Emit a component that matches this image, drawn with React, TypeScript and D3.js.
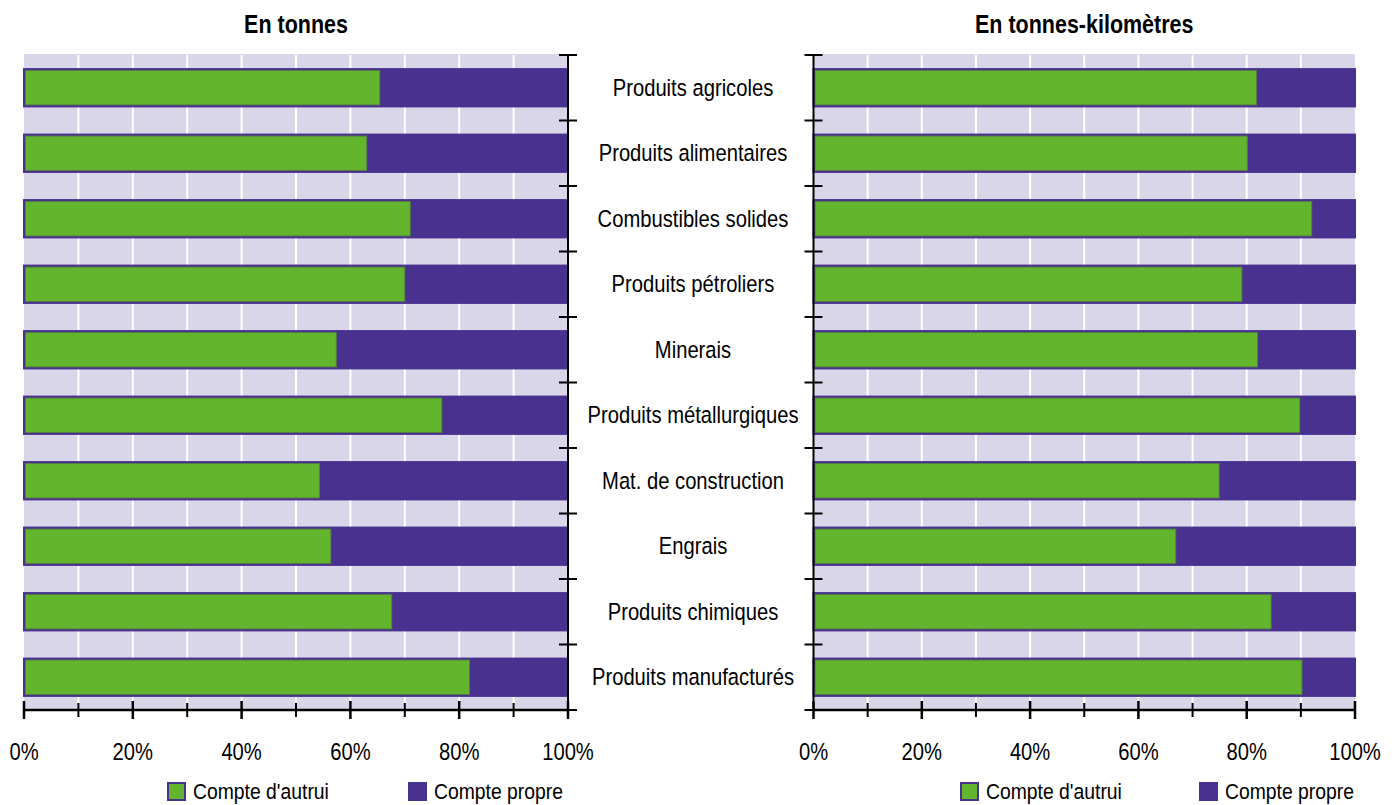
import React from "react";
import * as d3 from "d3";

// Shares of transport on own account vs. for hire, by commodity group
const categories = [
  "Produits agricoles",
  "Produits alimentaires",
  "Combustibles solides",
  "Produits pétroliers",
  "Minerais",
  "Produits métallurgiques",
  "Mat. de construction",
  "Engrais",
  "Produits chimiques",
  "Produits manufacturés",
];

// "Compte d'autrui" share (%), the rest is "Compte propre"
const autruiTonnes = [65.4, 63.0, 71.0, 70.0, 57.4, 76.8, 54.3, 56.4, 67.6, 81.9];
const autruiTkm = [81.8, 80.1, 92.0, 79.1, 82.0, 89.8, 74.9, 66.9, 84.5, 90.2];

const xTicks = [0, 20, 40, 60, 80, 100];
const minorTicks = [10, 30, 50, 70, 90];
const gridValues = [10, 20, 30, 40, 50, 60, 70, 80, 90];
const legendItems = ["Compte d'autrui", "Compte propre"];
const panelTitles = ["En tonnes", "En tonnes-kilomètres"];

const W = 1396;
const H = 805;
const FONT = "'Liberation Sans', Arial, sans-serif";
const NARROW = 0.86; // horizontal squeeze for a condensed look
const GREEN = "#64b52e";
const PURPLE = "#48318f";
const BG = "#d9d6e9";

const TOP = 55;
const BOTTOM = 710;

const y = d3.scaleBand<string>().domain(categories).range([TOP, BOTTOM]).paddingInner(0.43).paddingOuter(0.215);

interface LabelProps {
  x: number;
  y: number;
  size: number;
  anchor?: "start" | "middle" | "end";
  bold?: boolean;
  dy?: string;
  children: React.ReactNode;
}

function Label({ x, y, size, anchor = "start", bold = false, dy, children }: LabelProps) {
  return (
    <text
      transform={`translate(${x},${y}) scale(${NARROW},1)`}
      dy={dy}
      textAnchor={anchor}
      fontFamily={FONT}
      fontWeight={bold ? "bold" : "normal"}
      fontSize={size}
      fill="#000"
    >
      {children}
    </text>
  );
}

interface PanelProps {
  x0: number;
  x1: number;
  values: number[];
  title: string;
  axisSide: "left" | "right";
  legendX: number;
  legendGap: number;
}

function Panel({ x0, x1, values, title, axisSide, legendX, legendGap }: PanelProps) {
  const x = d3.scaleLinear().domain([0, 100]).range([x0, x1]);
  const axisX = axisSide === "right" ? x(100) : x(0);
  const boundaries = d3.range(categories.length + 1).map((i) => TOP + (i * (BOTTOM - TOP)) / categories.length);
  return (
    <g>
      <Label x={(x0 + x1) / 2} y={33} size={25} anchor="middle" bold>
        {title}
      </Label>
      <rect x={x(0)} y={TOP - 1} width={x(100) - x(0)} height={BOTTOM - TOP + 1} fill={BG} />
      {gridValues.map((v) => (
        <line key={v} x1={x(v)} x2={x(v)} y1={TOP} y2={BOTTOM} stroke="#fff" strokeWidth={2} />
      ))}
      {categories.map((c, i) => {
        const by = y(c)!;
        const bh = y.bandwidth();
        return (
          <g key={c}>
            <rect x={x(0)} y={by} width={x(100) - x(0)} height={bh} fill={PURPLE} stroke={PURPLE} strokeWidth={2} />
            <rect
              x={x(0) + 1.5}
              y={by + 1.5}
              width={x(values[i]) - x(0) - 1.5}
              height={bh - 3}
              fill={GREEN}
              stroke="#55803f"
              strokeWidth={1}
            />
          </g>
        );
      })}
      {/* category axis */}
      <line x1={axisX} x2={axisX} y1={TOP} y2={BOTTOM} stroke="#000" strokeWidth={2} />
      {boundaries.map((b, i) => (
        <line key={i} x1={axisX - 9} x2={axisX + 9} y1={b} y2={b} stroke="#000" strokeWidth={2} />
      ))}
      {/* value axis */}
      <line x1={x(0)} x2={x(100)} y1={BOTTOM} y2={BOTTOM} stroke="#000" strokeWidth={2.5} />
      {xTicks.map((t) => (
        <g key={t}>
          <line x1={x(t)} x2={x(t)} y1={BOTTOM - 9} y2={BOTTOM + 9} stroke="#000" strokeWidth={2.5} />
          <Label x={x(t)} y={760} size={23.5} anchor="middle">
            {t}%
          </Label>
        </g>
      ))}
      {minorTicks.map((t) => (
        <line key={t} x1={x(t)} x2={x(t)} y1={BOTTOM - 7} y2={BOTTOM + 7} stroke="#000" strokeWidth={2} />
      ))}
      {/* legend */}
      {legendItems.map((name, i) => {
        const lx = legendX + i * legendGap;
        return (
          <g key={name}>
            <rect
              x={lx}
              y={783}
              width={17}
              height={17}
              fill={i === 0 ? GREEN : PURPLE}
              stroke={PURPLE}
              strokeWidth={2}
            />
            <Label x={lx + 25} y={799} size={22.5}>
              {name}
            </Label>
          </g>
        );
      })}
    </g>
  );
}

export default function App() {
  return (
    <svg width={W} height={H} style={{ position: "absolute", left: 0, top: 0, background: "#fff" }}>
      <Panel x0={24} x1={568} values={autruiTonnes} title={panelTitles[0]} axisSide="right" legendX={168} legendGap={241} />
      <Panel x0={813.5} x1={1355} values={autruiTkm} title={panelTitles[1]} axisSide="left" legendX={961} legendGap={239} />
      {categories.map((c) => (
        <Label key={c} x={693} y={y(c)! + y.bandwidth() / 2} dy="0.35em" size={23.5} anchor="middle">
          {c}
        </Label>
      ))}
    </svg>
  );
}
